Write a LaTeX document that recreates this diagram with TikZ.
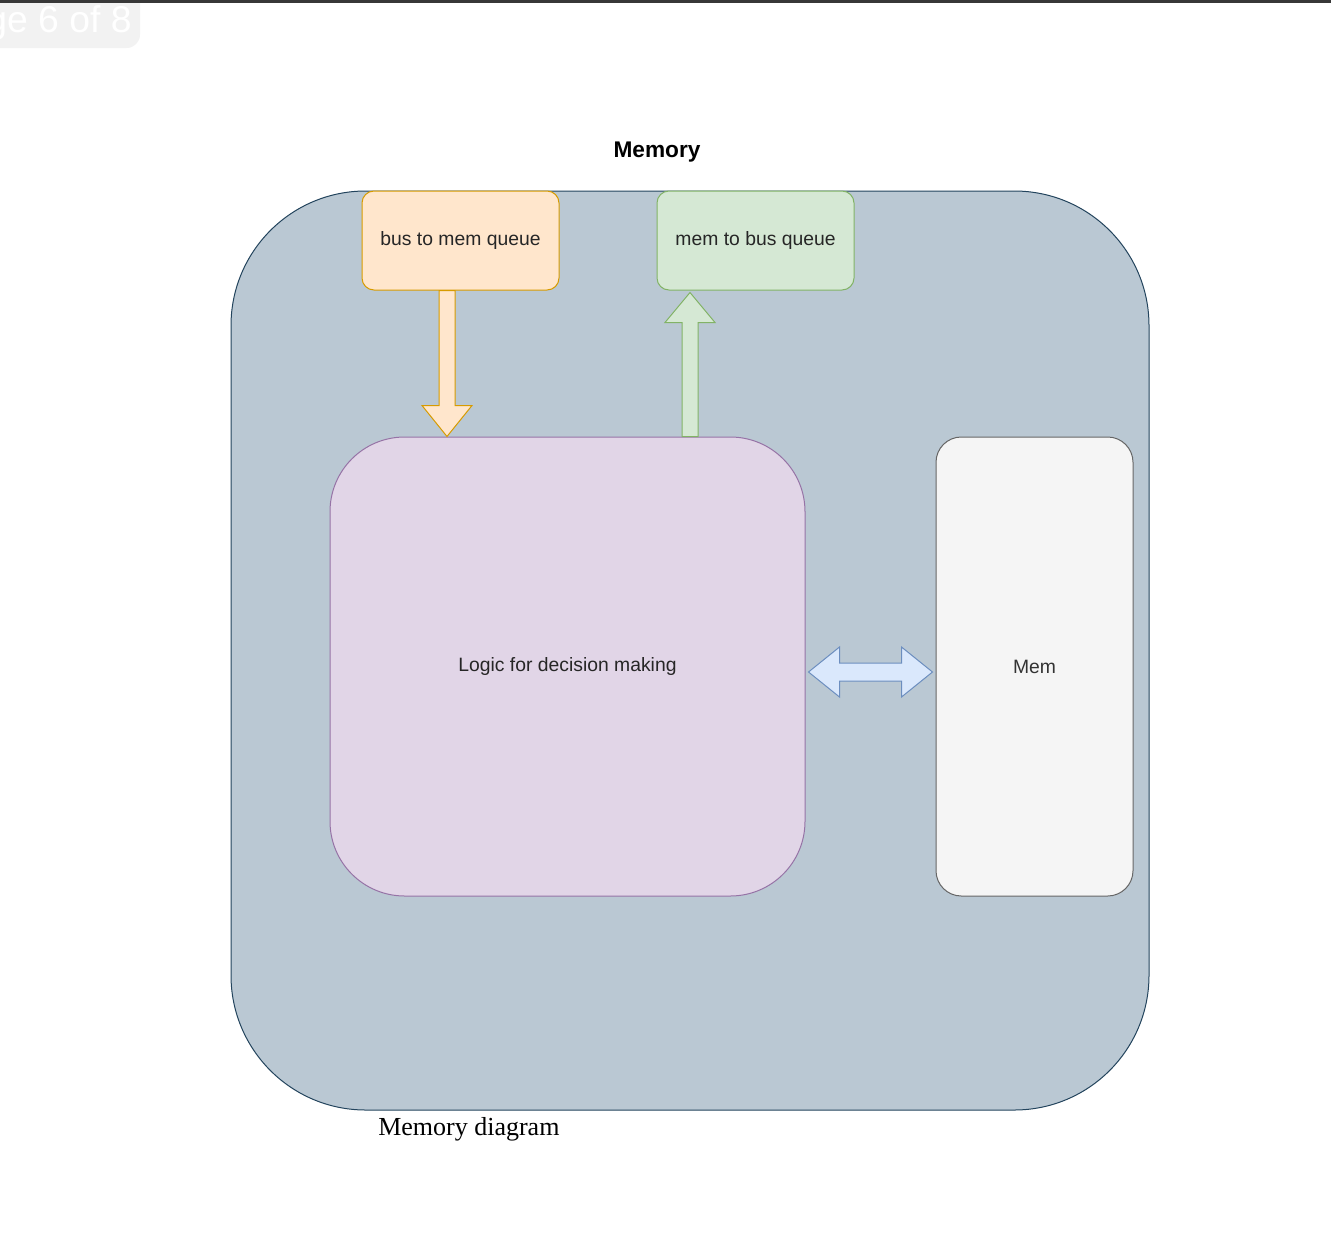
\documentclass[tikz,border=0pt]{standalone}
\usepackage{fontspec}
\setmainfont{Liberation Sans}
\newfontfamily\capfont{Liberation Serif}
\usetikzlibrary{calc,positioning}
\definecolor{outerfill}{HTML}{BAC8D3}
\definecolor{outerline}{HTML}{23445D}
\definecolor{orangefill}{HTML}{FFE6CC}
\definecolor{orangeline}{HTML}{D79B00}
\definecolor{greenfill}{HTML}{D5E8D4}
\definecolor{greenline}{HTML}{82B366}
\definecolor{purplefill}{HTML}{E1D5E7}
\definecolor{purpleline}{HTML}{9673A6}
\definecolor{grayfill}{HTML}{F5F5F5}
\definecolor{grayline}{HTML}{666666}
\definecolor{bluefill}{HTML}{DAE8FC}
\definecolor{blueline}{HTML}{6C8EBF}
\tikzstyle{box}=[shape=rectangle, draw, line width=0.75pt, inner sep=0pt, font=\fontsize{14.5}{17}\selectfont, text=black!85]
\tikzstyle{queue}=[box, rounded corners=9pt, minimum width=147.75pt, minimum height=74.25pt]
\tikzstyle{barrow}=[line width=0.75pt, line join=miter]

\begin{document}
\begin{tikzpicture}[x=0.75pt,y=-0.75pt]
\useasboundingbox (0,0) rectangle (1331,1253);
% page badge and top rule
\fill[black!5, rounded corners=10pt] (-40,-20) rectangle (140,48);
\node (badge) [anchor=base west, inner sep=0pt, text=white, font=\fontsize{28}{30}\selectfont] at (-14,32) {ge 6 of 8};
\fill[black!78] (0,0) rectangle (1331,3);

\node (mem title) [font=\bfseries\fontsize{17}{20}\selectfont] at (657,152) {Memory};
\node (memory) [box, fill=outerfill, draw=outerline, rounded corners=101pt, minimum width=688.5pt, minimum height=689.25pt] at (690,650.5) {};
\node (bmq) [queue, fill=orangefill, draw=orangeline] at (460.5,240.5) {bus to mem queue};
\node (mbq) [queue, fill=greenfill, draw=greenline] at (755.5,240.5) {mem to bus queue};
\node (logic) [box, fill=purplefill, draw=purpleline, rounded corners=56pt, minimum width=356.25pt, minimum height=344.25pt] at (567.5,666.5) {Logic for decision making};
\node (mem) [box, fill=grayfill, draw=grayline, text=black!80, rounded corners=19pt, minimum width=147.75pt, minimum height=344.25pt] at (1034.5,666.5) {Mem};
\node (caption) [anchor=base west, inner sep=0pt, font=\capfont\fontsize{19.5}{22}\selectfont] at (378,1135) {Memory diagram};

% block arrows
\path (bmq.south) ++(-13.5,0) coordinate (d1);
\coordinate (d2) at (d1 |- logic.north);
\draw[barrow, fill=orangefill, draw=orangeline] ($(d1)+(-8,0)$) -- ($(d2)+(-8,-31)$) -- ($(d2)+(-25,-31)$) -- (d2) -- ($(d2)+(25,-31)$) -- ($(d2)+(8,-31)$) -- ($(d1)+(8,0)$) -- cycle;

\path (logic.north) ++(122.5,0) coordinate (u1);
\coordinate (u2) at ($(u1 |- mbq.south)+(0,2)$);
\draw[barrow, fill=greenfill, draw=greenline] ($(u1)+(-8,0)$) -- ($(u2)+(-8,30)$) -- ($(u2)+(-25,30)$) -- (u2) -- ($(u2)+(25,30)$) -- ($(u2)+(8,30)$) -- ($(u1)+(8,0)$) -- cycle;

\coordinate (l1) at ($(logic.east)+(3,5.5)$);
\coordinate (r1) at ($(l1 -| mem.west)+(-3,0)$);
\draw[barrow, fill=bluefill, draw=blueline] (l1) -- ($(l1)+(31,-25)$) -- ($(l1)+(31,-9)$) -- ($(r1)+(-31,-9)$) -- ($(r1)+(-31,-25)$) -- (r1) -- ($(r1)+(-31,25)$) -- ($(r1)+(-31,9)$) -- ($(l1)+(31,9)$) -- ($(l1)+(31,25)$) -- cycle;

\end{tikzpicture}
\end{document}
